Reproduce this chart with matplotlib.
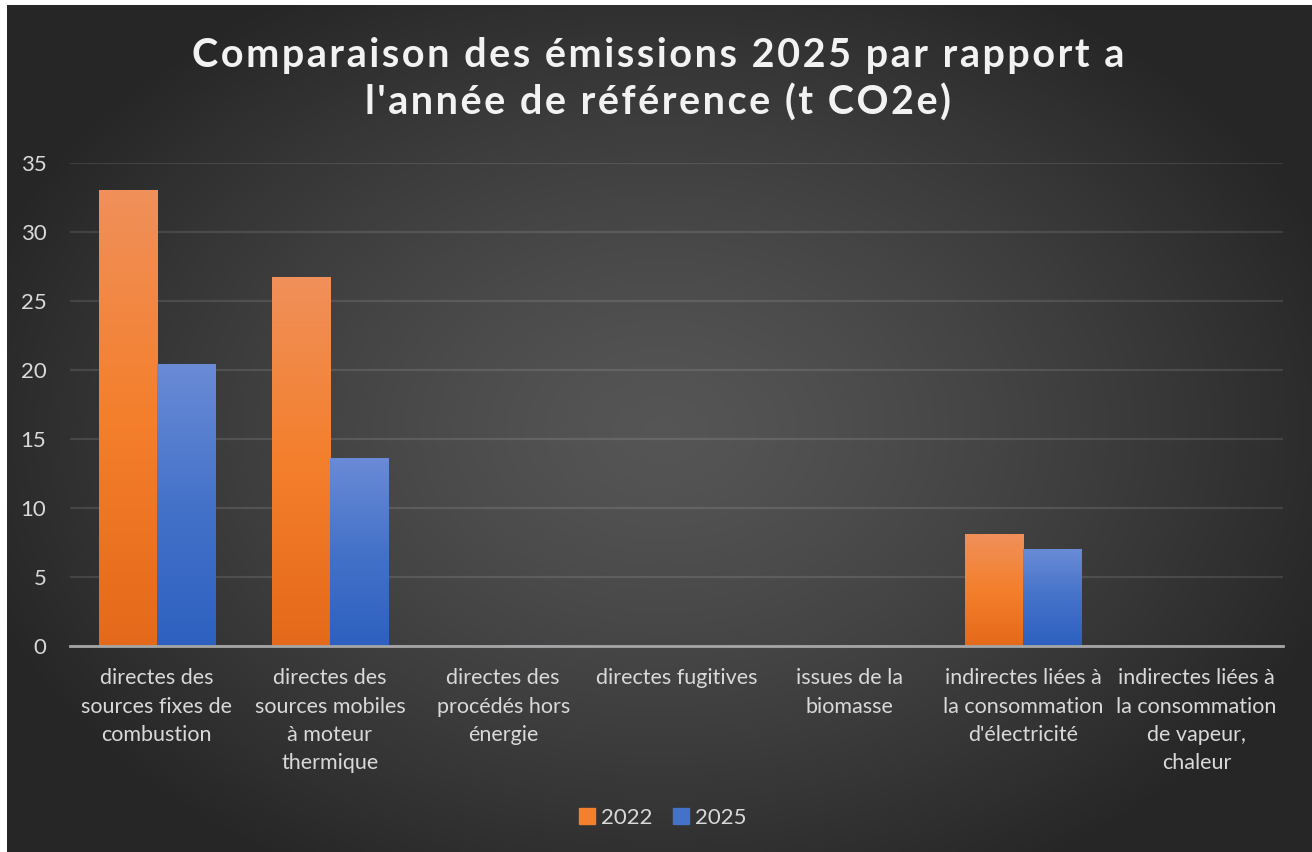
import numpy as np
import matplotlib
matplotlib.use('Agg')
import matplotlib.pyplot as plt
from matplotlib.patches import Rectangle
from matplotlib.colors import LinearSegmentedColormap

plt.rcParams['font.family'] = ['Lato', 'DejaVu Sans']

categories = ['directes des\nsources fixes de\ncombustion',
              'directes des\nsources mobiles\nà moteur\nthermique',
              'directes des\nprocédés hors\nénergie',
              'directes fugitives',
              'issues de la\nbiomasse',
              'indirectes liées à\nla consommation\nd\'électricité',
              'indirectes liées à\nla consommation\nde vapeur,\nchaleur']
values_2022 = [33.0, 26.7, 0.0, 0.0, 0.0, 8.1, 0.0]
values_2025 = [20.4, 13.6, 0.05, 0.0, 0.0, 7.0, 0.0]
series_names = ['2022', '2025']
yticks = [0, 5, 10, 15, 20, 25, 30, 35]
title_lines = ["Comparaison des émissions 2025 par rapport a",
               "l'année de référence (t CO2e)"]

orange_cmap = LinearSegmentedColormap.from_list('o', ['#e5691a', '#f47f2c', '#f0905a'])
blue_cmap = LinearSegmentedColormap.from_list('b', ['#2d60c0', '#4472c9', '#6a8bd6'])

W, H = 1312, 852
fig = plt.figure(figsize=(W / 100, H / 100), dpi=100, facecolor='white')

# radial dark background (leaves thin white strip at left/top)
bg = fig.add_axes([7 / W, 0, 1 - 7 / W, 1 - 5 / H])
bg.set_axis_off()
yy, xx = np.mgrid[0:200, 0:300]
cx, cy = 150, 100
r = np.sqrt(((xx - cx) / 165.0) ** 2 + ((yy - cy) / 120.0) ** 2)
r = np.clip(r, 0, 1)
lum = 0.335 - 0.185 * r ** 1.3
img = np.dstack([lum, lum, lum])
bg.imshow(img, aspect='auto', extent=[0, 1, 0, 1], interpolation='bicubic')
bg.set_xlim(0, 1)
bg.set_ylim(0, 1)

ax = fig.add_axes([70 / W, 1 - 646 / H, (1283 - 70) / W, (646 - 163) / H])
ax.patch.set_alpha(0)
x = np.arange(len(categories))
bw = 0.335
grad = np.linspace(0, 1, 256).reshape(-1, 1)
for vals, cmap, off in [(values_2022, orange_cmap, -bw / 2), (values_2025, blue_cmap, bw / 2)]:
    bars = ax.bar(x + off, vals, bw, color='none', zorder=3)
    for b in bars:
        h = b.get_height()
        if h <= 0:
            continue
        x0 = b.get_x()
        ax.imshow(grad, cmap=cmap, origin='lower', aspect='auto',
                  extent=[x0, x0 + bw, 0, h], zorder=3)
ax.set_xlim(-0.5, len(categories) - 0.5)
ax.set_ylim(0, 35)
ax.set_yticks(yticks)
ax.set_xticks(x)
ax.set_xticklabels(categories, color='#d9d9d9', fontsize=15.5, linespacing=1.52, va='top')
ax.tick_params(axis='y', colors='#d9d9d9', labelsize=16, length=0, pad=17)
ax.tick_params(axis='x', length=0, pad=16)
ax.grid(axis='y', color='#ffffff', alpha=0.11, lw=1.6, zorder=1)
for s in ['top', 'right', 'left']:
    ax.spines[s].set_visible(False)
ax.spines['bottom'].set_color('#a6a6a6')
ax.spines['bottom'].set_linewidth(2)
ax.spines['bottom'].set_zorder(4)

handles = [Rectangle((0, 0), 1, 1, color='#f47f2c'), Rectangle((0, 0), 1, 1, color='#4472c9')]
fig.legend(handles, series_names, loc='center', bbox_to_anchor=(663 / W, 1 - 818 / H), ncol=2,
           frameon=False, fontsize=16, labelcolor='#d9d9d9', handlelength=0.7, handleheight=0.7,
           handletextpad=0.3, columnspacing=0.9)

# title with loose letter spacing (hair spaces between characters)
for line, yc in zip(title_lines, [55, 103]):
    spaced = '\u200a'.join(line)
    fig.text(658 / W, 1 - yc / H, spaced, ha='center', va='center', color='#f2f2f2',
             fontsize=28.5, fontweight='bold')

fig.savefig('out.png', dpi=100, facecolor='white')
